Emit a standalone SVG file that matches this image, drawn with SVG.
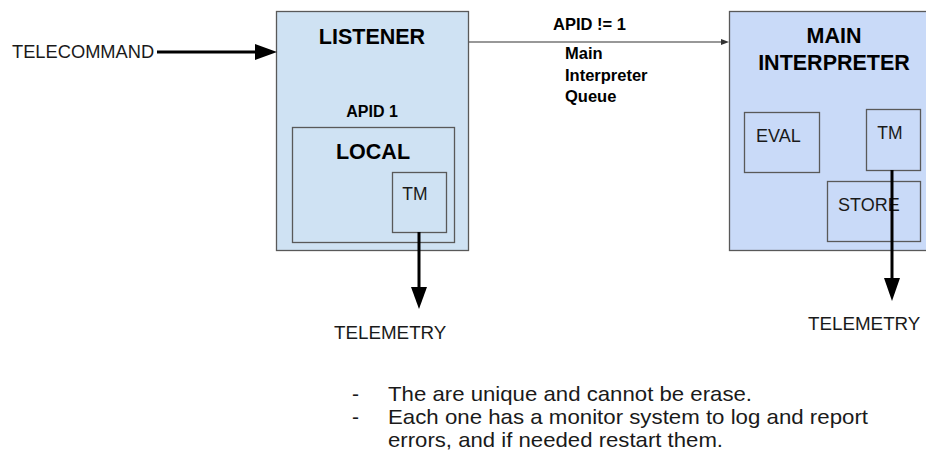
<svg xmlns="http://www.w3.org/2000/svg" width="926" height="457" viewBox="0 0 926 457">
<style>
.box{stroke:#595959;stroke-width:1.3}
.inner{fill:none;stroke:#595959;stroke-width:1.3}
.t{font-family:"Liberation Sans",Arial,sans-serif;fill:#1a1a1a}
.b{font-weight:bold;fill:#000}
.thick{stroke:#000;stroke-width:3;fill:none}
.thin{stroke:#333;stroke-width:1.2;fill:none}
</style>
<rect width="926" height="457" fill="#fff"/>
<g id="listener">
<rect class="box" x="276.5" y="11.5" width="192" height="239" fill="#cfe2f3"/>
<text class="t b" x="372" y="44" font-size="21.5" text-anchor="middle">LISTENER</text>
<text class="t b" x="372" y="117" font-size="16" text-anchor="middle">APID 1</text>
</g>
<g id="local">
<rect class="inner" x="292.5" y="127.5" width="162" height="115"/>
<text class="t b" x="373" y="159" font-size="21.5" text-anchor="middle">LOCAL</text>
</g>
<g id="tm-local">
<rect class="inner" x="392.5" y="172.5" width="54" height="60"/>
<text class="t" x="415" y="200" font-size="17.5" text-anchor="middle">TM</text>
</g>
<g id="main-interpreter">
<rect class="box" x="729.5" y="11.5" width="205" height="239" fill="#c9daf8"/>
<text class="t b" x="834" y="43" font-size="21.5" text-anchor="middle">MAIN</text>
<text class="t b" x="834" y="70" font-size="21.5" text-anchor="middle">INTERPRETER</text>
</g>
<g id="eval">
<rect class="inner" x="744.5" y="112.5" width="75" height="60"/>
<text class="t" x="756" y="142" font-size="18">EVAL</text>
</g>
<g id="tm-main">
<rect class="inner" x="866.5" y="109.5" width="54" height="61"/>
<text class="t" x="890" y="139" font-size="17.5" text-anchor="middle">TM</text>
</g>
<g id="store">
<rect class="inner" x="827.5" y="181.5" width="93" height="60"/>
<text class="t" x="838" y="211" font-size="18">STORE</text>
</g>
<g id="connectors">
<line class="thick" x1="157" y1="52" x2="258" y2="52"/>
<polygon points="255,44 277,52 255,60" fill="#000"/>
<line class="thin" x1="469" y1="42" x2="724" y2="42"/>
<polygon points="721,39 729,42 721,45" fill="#333"/>
<line class="thick" x1="419" y1="232" x2="419" y2="290"/>
<polygon points="411,287 427,287 419,309" fill="#000"/>
<line class="thick" x1="892" y1="170" x2="892" y2="281"/>
<polygon points="884,278 900,278 892,301" fill="#000"/>
</g>
<g id="labels">
<text class="t" x="12" y="58" font-size="18.3">TELECOMMAND</text>
<text class="t b" x="553" y="30" font-size="16.5">APID != 1</text>
<text class="t b" x="565" y="59" font-size="16.5">Main</text>
<text class="t b" x="565" y="81" font-size="16.5">Interpreter</text>
<text class="t b" x="565" y="102" font-size="16.5">Queue</text>
<text class="t" x="334" y="339" font-size="18.8">TELEMETRY</text>
<text class="t" x="808" y="330" font-size="18.8">TELEMETRY</text>
</g>
<g id="notes" class="t" font-size="21">
<text x="352" y="401">-</text>
<text x="388" y="401" textLength="364" lengthAdjust="spacingAndGlyphs">The are unique and cannot be erase.</text>
<text x="352" y="424">-</text>
<text x="388" y="424" textLength="480" lengthAdjust="spacingAndGlyphs">Each one has a monitor system to log and report</text>
<text x="388" y="447" textLength="335" lengthAdjust="spacingAndGlyphs">errors, and if needed restart them.</text>
</g>
</svg>
